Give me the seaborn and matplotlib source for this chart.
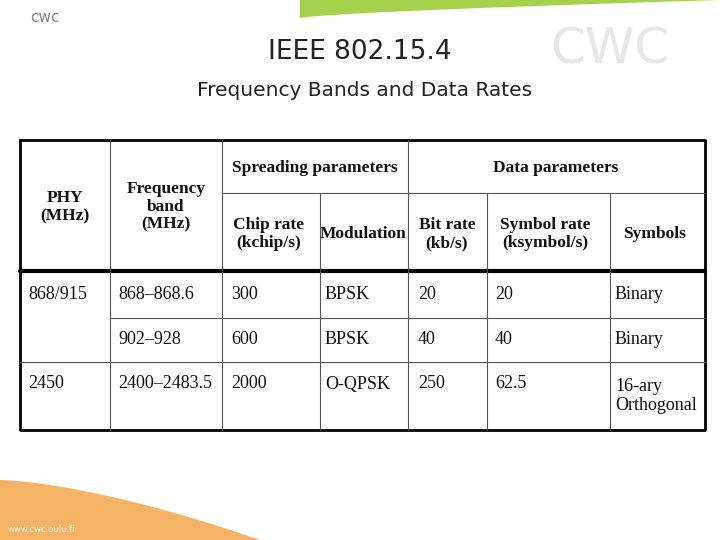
import matplotlib
matplotlib.use("Agg")
import matplotlib.pyplot as plt
import seaborn as sns
import numpy as np
from matplotlib.patches import Polygon

sns.set_theme(style="white")
plt.rcParams['font.family'] = ['DejaVu Sans']

title = "IEEE 802.15.4"
subtitle = "Frequency Bands and Data Rates"
col_edges = [20, 110, 222, 320, 408, 487, 610, 705]
row_edges = [140, 193, 271, 318, 362, 430]
phy = ["868/915", "", "2450"]
band = ["868–868.6", "902–928", "2400–2483.5"]
chip = ["300", "600", "2000"]
modulation = ["BPSK", "BPSK", "O-QPSK"]
bitrate = ["20", "40", "250"]
symrate = ["20", "40", "62.5"]
symbols = ["Binary", "Binary", "16-ary\nOrthogonal"]

fig = plt.figure(figsize=(7.2, 5.4), dpi=100)
ax = fig.add_axes([0, 0, 1, 1])
ax.set_xlim(0, 720); ax.set_ylim(540, 0); ax.axis("off")

# decorative swooshes
xs = np.linspace(300, 720, 50)
ax.add_patch(Polygon(np.c_[np.r_[xs, 720, 300], np.r_[18 - 18*((xs-300)/420)**0.7, 0, 0]],
                     color="#9ccc3a", alpha=0.9, lw=0))
xs2 = np.linspace(0, 260, 50)
ax.add_patch(Polygon(np.c_[np.r_[xs2, 0], np.r_[480 + 60*(xs2/260)**1.5, 540]],
                     color="#f5a54a", alpha=0.85, lw=0))
ax.text(8, 532, "www.cwc.oulu.fi", color="white", fontsize=6)
ax.text(30, 22, "cwc", color="#888888", fontsize=11)
ax.text(610, 50, "CWC", color="#e6e6e6", fontsize=36, ha="center", va="center", zorder=0)

ax.text(360, 52, title, ha="center", va="center", fontsize=19, color="#222222")
ax.text(365, 90, subtitle, ha="center", va="center", fontsize=14.5, color="#222222")

# table lines
L, R = col_edges[0], col_edges[-1]
T, B = row_edges[0], row_edges[-1]
ax.plot([L, R, R, L, L], [T, T, B, B, T], color="black", lw=2)
ax.plot([L, R], [row_edges[2]]*2, color="black", lw=3)
ax.plot([col_edges[2], R], [row_edges[1]]*2, color="#555555", lw=0.8)
ax.plot([col_edges[1], R], [row_edges[3]]*2, color="#555555", lw=0.8)
ax.plot([L, R], [row_edges[4]]*2, color="#555555", lw=0.8)
for i, x in enumerate(col_edges[1:-1], start=1):
    if i in (3, 5, 6):
        ax.plot([x, x], [row_edges[1], B], color="#555555", lw=0.8)
    else:
        ax.plot([x, x], [T, B], color="#555555", lw=0.8)

serif = dict(family="Liberation Serif", color="#111111")
hb = dict(fontweight="bold", fontsize=12.5, ha="center", va="center", **serif)
ax.text(65, 207, "PHY\n(MHz)", linespacing=1.2, **hb)
ax.text(166, 207, "Frequency\nband\n(MHz)", linespacing=1.15, **hb)
ax.text(315, 168, "Spreading parameters", **hb)
ax.text(556, 168, "Data parameters", **hb)
ax.text(269, 234, "Chip rate\n(kchip/s)", linespacing=1.2, **hb)
ax.text(363, 234, "Modulation", **hb)
ax.text(447, 234, "Bit rate\n(kb/s)", linespacing=1.2, **hb)
ax.text(545, 234, "Symbol rate\n(ksymbol/s)", linespacing=1.2, **hb)
ax.text(655, 234, "Symbols", **hb)

cb = dict(fontsize=13, va="center", ha="left", **serif)
cols = [phy, band, chip, modulation, bitrate, symrate, symbols]
xoff = [28, 118, 231, 325, 418, 495, 615]
for r in range(3):
    y = (row_edges[r+2] + row_edges[r+3]) / 2
    for c, data in enumerate(cols):
        txt = data[r]
        yy = y if "\n" in txt else (y - 12 if r == 2 else y)
        ax.text(xoff[c], yy, txt, linespacing=1.15, **cb)

fig.savefig("out.png", dpi=100)
